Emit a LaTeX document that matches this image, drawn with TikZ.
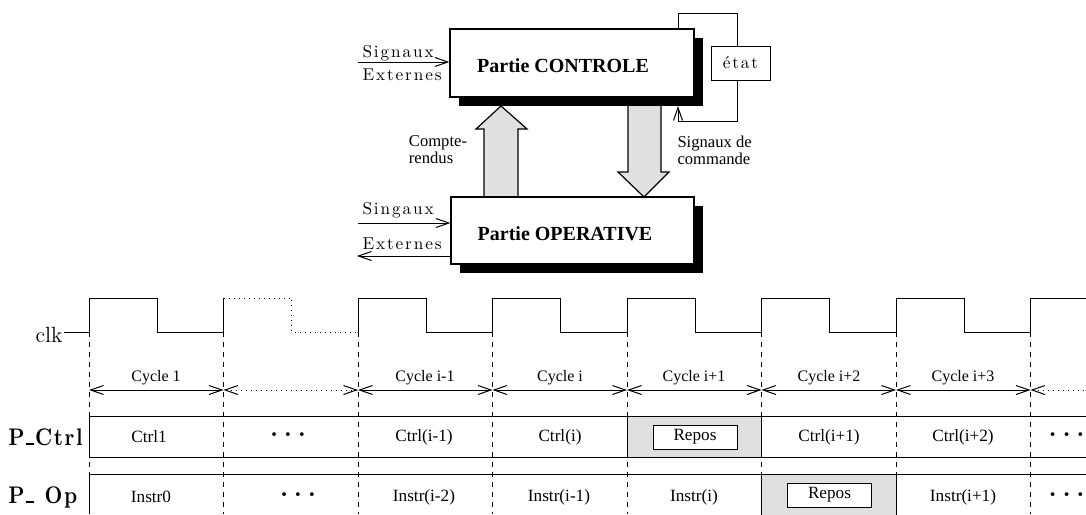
\documentclass[tikz,border=0pt]{standalone}
\usepackage{fontspec}
\usetikzlibrary{arrows.meta,shadows,calc}
\newfontfamily\tms{Liberation Serif}
\newfontfamily\lmsp{lmroman10-regular}[Extension=.otf,LetterSpace=11]
\newfontfamily\lmbsp{lmroman10-bold}[Extension=.otf,LetterSpace=8]
\newcommand\lowbar{\kern0.04em\rule{0.42em}{0.09em}\kern0.04em}
\newcommand\threedots{.\hspace{0.22em}.\hspace{0.22em}.}
\begin{document}
\begin{tikzpicture}[x=0.5pt,y=-0.5pt,line width=0.5pt,
  >={Straight Barb[length=6.5pt,width=4.5pt]},
  bloc/.style={draw,fill=white,line width=0.6pt,inner sep=0pt,
    drop shadow={shadow xshift=4.5pt,shadow yshift=-4.5pt,fill=black,opacity=1}},
  bigarrow/.style={draw,fill=black!12,line width=0.6pt},
  sigtext/.style={inner sep=0pt,font=\lmsp\fontsize{8.6}{10}\selectfont},
  titletext/.style={inner sep=0pt,font=\tms\bfseries\fontsize{10}{12}\selectfont},
  smalltext/.style={inner sep=0pt,align=left,font=\tms\fontsize{8.3}{7}\selectfont},
  cyctext/.style={inner sep=0pt,font=\tms\fontsize{8}{10}\selectfont},
  celltext/.style={inner sep=0pt,font=\tms\fontsize{8.6}{10}\selectfont},
  dotstext/.style={inner sep=0pt,font=\bfseries\fontsize{13}{15}\selectfont},
  rowlabel/.style={inner sep=0pt,anchor=west,font=\lmbsp\fontsize{12}{14}\selectfont},
  clktrace/.style={line width=0.5pt},
  grid/.style={dash pattern=on 2.5pt off 2.5pt},
  cellbox/.style={draw,fill=white,minimum width=42pt,minimum height=12pt,inner sep=0pt},
  repos/.style={draw,fill=black!12}]
\useasboundingbox (0,0) rectangle (1086,514);

% ---------- upper block diagram ----------
% wide arrows between the two units (drawn first, the boxes cover their ends)
\path[bigarrow] (484,197) -- (484,129) -- (476,129) -- (501,106) -- (527,129)
  -- (518,129) -- (518,197) -- cycle;
\path[bigarrow] (628,100) -- (628,172) -- (618,172) -- (644,197) -- (669,172)
  -- (661,172) -- (661,100) -- cycle;

\node[bloc,minimum width=122pt,minimum height=34pt] (ctl) at (572,63) {};
\node[titletext] (ctltxt) at (563,65.5) {Partie CONTROLE};
\node[bloc,minimum width=121.5pt,minimum height=33.5pt] (op) at (572.5,230.5) {};
\node[titletext] (optxt) at (565,233.5) {Partie OPERATIVE};

% state register and its loop
\node[draw,fill=white,minimum width=29.5pt,minimum height=17pt,inner sep=0pt,
  font=\lmsp\fontsize{8.6}{10}\selectfont] (etat) at (740.5,63) {état};
\coordinate (loopout) at (678,29);
\coordinate (loopin) at (678,106);
\draw (loopout) -- (678,13) -- (737,13) -- (737,46);
\draw[->] (737,80) -- (737,121) -- (678,121) -- (loopin);

% external signals
\node[sigtext,anchor=base west] (sigc) at (362,57) {Signaux};
\node[sigtext,anchor=base west] (extc) at (362,80) {Externes};
\coordinate (inc) at (358,62);
\draw[->] (inc) -- (inc -| ctl.west);

\node[sigtext,anchor=base west] (sigo) at (362,214) {Singaux};
\node[sigtext,anchor=base west] (exto) at (362,249) {Externes};
\coordinate (ino) at (358,223);
\coordinate (outo) at (357,256);
\draw[->] (ino) -- (ino -| op.west);
\draw[->] (outo -| op.west) -- (outo);

\node[smalltext] (cr) at (438,150) {Compte-\\rendus};
\node[smalltext,anchor=west] (sc) at (677,150) {Signaux de\\commande};

% ---------- timing diagram ----------
\node[anchor=base east,inner sep=0pt,font=\fontsize{11}{13}\selectfont] (clk) at (63,342) {clk};

% clock trace
\draw[clktrace] (64,332) -- (89,332) -- (89,298) -- (157,298) -- (157,332)
  -- (223.5,332) -- (223.5,298);
\draw[clktrace,dotted] (223.5,298) -- (291.5,298) -- (291.5,332) -- (358,332);
\draw[clktrace] (358,332) -- (358,298) -- (426,298) -- (426,332)
  -- (492.5,332) -- (492.5,298) -- (560.5,298) -- (560.5,332)
  -- (627,332) -- (627,298) -- (695,298) -- (695,332)
  -- (761.5,332) -- (761.5,298) -- (829.5,298) -- (829.5,332)
  -- (896,332) -- (896,298) -- (964,298) -- (964,332)
  -- (1030.5,332) -- (1030.5,298) -- (1086,298);

% cycle boundaries
\foreach \x in {89,223.5,358,492.5,627,761.5,896,1030.5}
  \draw[grid] (\x,332) -- (\x,514);

% cycle spans
\draw[<->] (89,390) -- (223.5,390);
\draw[<->,dotted] (223.5,390) -- (358,390);
\draw[<->] (358,390) -- (492.5,390);
\draw[<->] (492.5,390) -- (627,390);
\draw[<->] (627,390) -- (761.5,390);
\draw[<->] (761.5,390) -- (896,390);
\draw[<->] (896,390) -- (1030.5,390);
\draw[<-,dotted] (1030.5,390) -- (1086,390);
\node[cyctext] (c1) at (156,378) {Cycle 1};
\node[cyctext] (c2) at (425,378) {Cycle i-1};
\node[cyctext] (c3) at (560,378) {Cycle i};
\node[cyctext] (c4) at (694,378) {Cycle i+1};
\node[cyctext] (c5) at (829,378) {Cycle i+2};
\node[cyctext] (c6) at (963,378) {Cycle i+3};

% control unit row
\path[repos] (627,416) rectangle (761.5,457);
\draw (89,416) -- (1086,416);
\draw (89,457) -- (1086,457);
\draw (89,416) -- (89,457);
\node[rowlabel] (pctrl) at (8,437) {\scalebox{0.86}[1]{P\lowbar Ctrl}};
\node[celltext] (k1) at (149,437) {Ctrl1};
\node[dotstext] (k2) at (288,435) {\threedots};
\node[celltext] (k3) at (424,437) {Ctrl(i-1)};
\node[celltext] (k4) at (560,437) {Ctrl(i)};
\node[cellbox,celltext] (k5) at (695,437) {Repos};
\node[celltext] (k6) at (829,437) {Ctrl(i+1)};
\node[celltext] (k7) at (963,437) {Ctrl(i+2)};
\node[dotstext,anchor=east] (k8) at (1085,435) {\threedots};

% operative unit row
\path[repos] (761.5,474) rectangle (896,520);
\draw (761.5,474) -- (761.5,514) (896,474) -- (896,514);
\draw (89,474) -- (1086,474);
\draw (89,474) -- (89,514);
\node[rowlabel] (pop) at (8,497) {\scalebox{0.86}[1]{P\lowbar\ Op}};
\node[celltext] (m1) at (151,497) {Instr0};
\node[dotstext] (m2) at (298,495) {\threedots};
\node[celltext] (m3) at (424,497) {Instr(i-2)};
\node[celltext] (m4) at (559,497) {Instr(i-1)};
\node[celltext] (m5) at (694,497) {Instr(i)};
\node[cellbox,celltext] (m6) at (829.5,495) {Repos};
\node[celltext] (m7) at (963,497) {Instr(i+1)};
\node[dotstext,anchor=east] (m8) at (1085,495) {\threedots};
\end{tikzpicture}
\end{document}
